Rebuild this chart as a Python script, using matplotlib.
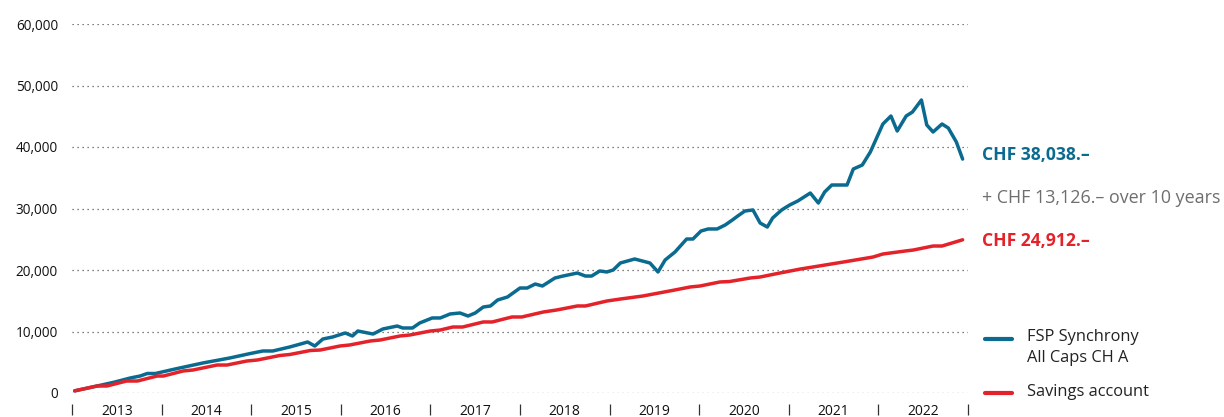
import matplotlib
matplotlib.use("Agg")
import matplotlib.pyplot as plt
from matplotlib.lines import Line2D
from matplotlib.ticker import FuncFormatter

# ---- data ----
fund_t = [2013.03, 2013.28, 2013.48, 2013.65, 2013.76, 2013.84, 2013.93, 2014.15, 2014.46, 2014.76,
          2014.99, 2015.13, 2015.24, 2015.43, 2015.63, 2015.71, 2015.80, 2015.91, 2016.05, 2016.13,
          2016.19, 2016.36, 2016.47, 2016.63, 2016.69, 2016.80, 2016.88, 2017.02, 2017.11, 2017.22,
          2017.33, 2017.42, 2017.50, 2017.59, 2017.67, 2017.75, 2017.86, 2018.00, 2018.08, 2018.17,
          2018.25, 2018.39, 2018.48, 2018.64, 2018.73, 2018.80, 2018.89, 2018.97, 2019.04, 2019.12,
          2019.28, 2019.45, 2019.54, 2019.62, 2019.73, 2019.86, 2019.93, 2020.02, 2020.10, 2020.20,
          2020.29, 2020.37, 2020.43, 2020.51, 2020.60, 2020.68, 2020.76, 2020.82, 2020.92, 2021.01,
          2021.10, 2021.24, 2021.33, 2021.40, 2021.48, 2021.65, 2021.72, 2021.82, 2021.91, 2022.05,
          2022.14, 2022.21, 2022.31, 2022.38, 2022.48, 2022.54, 2022.61, 2022.71, 2022.78, 2022.87,
          2022.94]
fund_v = [350, 1140, 1790, 2440, 2760, 3170, 3170, 3900, 4880, 5690,
          6420, 6830, 6830, 7480, 8290, 7640, 8780, 9110, 9760, 9270,
          10080, 9590, 10410, 10890, 10570, 10570, 11380, 12200, 12200, 12850,
          13010, 12520, 13010, 13980, 14150, 15120, 15610, 17070, 17070, 17720,
          17400, 18700, 19020, 19510, 19020, 19020, 19840, 19680, 20000, 21140,
          21790, 21140, 19680, 21630, 22930, 25040, 25040, 26340, 26670, 26670,
          27320, 28130, 28780, 29590, 29760, 27640, 26990, 28460, 29760, 30570,
          31220, 32520, 30890, 32680, 33820, 33820, 36420, 37070, 39190, 43740,
          45040, 42600, 45040, 45690, 47640, 43580, 42440, 43740, 43090, 40810,
          38038]

save_t = [2013.03, 2013.28, 2013.39, 2013.61, 2013.73, 2013.95, 2014.02, 2014.24, 2014.35, 2014.62,
          2014.73, 2014.95, 2015.07, 2015.32, 2015.43, 2015.66, 2015.77, 2015.99, 2016.10, 2016.33,
          2016.44, 2016.66, 2016.77, 2017.00, 2017.11, 2017.25, 2017.36, 2017.59, 2017.69, 2017.91,
          2018.02, 2018.26, 2018.41, 2018.64, 2018.73, 2018.97, 2019.12, 2019.37, 2019.70, 2019.90,
          2020.01, 2020.23, 2020.34, 2020.57, 2020.68, 2020.90, 2021.13, 2021.27, 2021.61, 2021.94,
          2022.05, 2022.30, 2022.39, 2022.61, 2022.71, 2022.94]
save_v = [350, 1140, 1140, 1950, 1950, 2760, 2760, 3580, 3740, 4550,
          4550, 5200, 5370, 6100, 6260, 6910, 6990, 7640, 7810, 8460,
          8620, 9270, 9430, 10080, 10240, 10730, 10730, 11550, 11550, 12360,
          12360, 13170, 13500, 14150, 14150, 14960, 15280, 15770, 16670, 17240,
          17400, 18050, 18130, 18700, 18860, 19510, 20160, 20490, 21300, 22110,
          22600, 23090, 23250, 23900, 23900, 24912]

years = list(range(2013, 2023))
y_ticks = [0, 10000, 20000, 30000, 40000, 50000, 60000]

fund_label = "FSP Synchrony"
fund_label2 = "All Caps CH A"
save_label = "Savings account"
fund_end_txt = "CHF 38,038.\u2013"
diff_txt = "+ CHF 13,126.\u2013 over 10 years"
save_end_txt = "CHF 24,912.\u2013"

BLUE = "#0a6a8f"
RED = "#e4222a"
GREY = "#6e6e6e"
DARK = "#222222"

plt.rcParams['font.family'] = ['Open Sans', 'DejaVu Sans']

W, H = 1224, 417
fig = plt.figure(figsize=(W / 100, H / 100), dpi=100)
ax = fig.add_axes([72 / W, 24 / H, 896 / W, 369 / H])

ax.plot(fund_t, fund_v, color=BLUE, lw=2.5, solid_joinstyle='round', solid_capstyle='round', zorder=3)
ax.plot(save_t, save_v, color=RED, lw=2.5, solid_joinstyle='round', solid_capstyle='round', zorder=3)

ax.set_xlim(2013, 2023)
ax.set_ylim(0, 60000)

for s in ax.spines.values():
    s.set_visible(False)
ax.spines['bottom'].set_position(('outward', 8))

ax.set_yticks(y_ticks)
ax.yaxis.set_major_formatter(FuncFormatter(lambda v, p: f"{int(v):,}"))
ax.tick_params(axis='y', length=0, pad=10, labelsize=9.8, labelcolor='#111111')
ax.yaxis.grid(True, linestyle=(0, (1, 3)), color='#555555', lw=0.9)
ax.set_axisbelow(True)

ax.set_xticks(years + [2023])
ax.set_xticklabels([])
ax.set_xticks([y + 0.5 for y in years], minor=True)
ax.set_xticklabels([str(y) for y in years], minor=True,
                   family=['Liberation Sans Narrow', 'Open Sans', 'DejaVu Sans'])
ax.tick_params(axis='x', which='major', direction='out', length=8, width=0.9, color='#333333')
ax.tick_params(axis='x', which='minor', length=0, pad=0, labelsize=10, labelcolor='#111111')

# end labels
fig.text(982 / W, 1 - 155 / H, fund_end_txt, color=BLUE, fontsize=12.6, fontweight='bold',
         ha='left', va='center')
fig.text(982 / W, 1 - 198 / H, diff_txt, color=GREY, fontsize=12.9, ha='left', va='center')
fig.text(982 / W, 1 - 241 / H, save_end_txt, color=RED, fontsize=12.6, fontweight='bold',
         ha='left', va='center')

# legend
fig.add_artist(Line2D([985 / W, 1012 / W], [1 - 339 / H] * 2, transform=fig.transFigure,
                      color=BLUE, lw=3, solid_capstyle='round'))
fig.add_artist(Line2D([985 / W, 1012 / W], [1 - 393 / H] * 2, transform=fig.transFigure,
                      color=RED, lw=3, solid_capstyle='round'))
fig.text(1027 / W, 1 - 337 / H, fund_label, color=DARK, fontsize=11.8, ha='left', va='center')
fig.text(1027 / W, 1 - 358 / H, fund_label2, color=DARK, fontsize=11.8, ha='left', va='center')
fig.text(1027 / W, 1 - 392 / H, save_label, color=DARK, fontsize=11.8, ha='left', va='center')

fig.savefig("out.png", dpi=100)
